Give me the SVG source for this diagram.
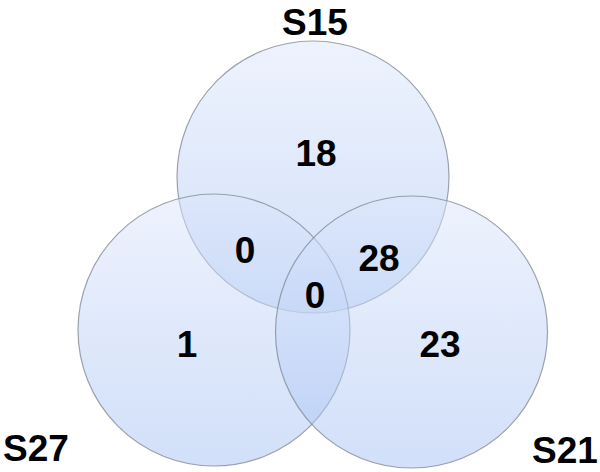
<svg xmlns="http://www.w3.org/2000/svg" width="600" height="472" viewBox="0 0 600 472">
<defs>
<linearGradient id="g" x1="0" y1="0" x2="0" y2="1">
<stop offset="0" stop-color="#dce6fb" stop-opacity="0.5"/>
<stop offset="1" stop-color="#a4c0f3" stop-opacity="0.5"/>
</linearGradient>
<style>
.c{fill:url(#g);stroke:#80868f;stroke-width:1.2;stroke-opacity:0.75}
.t{font-family:"Liberation Sans",Arial,sans-serif;font-weight:700;font-size:37px;fill:#000;text-anchor:middle}
</style>
</defs>
<rect width="600" height="472" fill="#fff"/>
<g id="S15"><circle class="c" cx="313" cy="177" r="136"/></g>
<g id="S27"><circle class="c" cx="214" cy="330" r="136"/></g>
<g id="S21"><circle class="c" cx="411.5" cy="332" r="136"/></g>
<g id="labels">
<text class="t" x="315" y="35">S15</text>
<text class="t" x="36" y="461">S27</text>
<text class="t" x="565" y="463">S21</text>
<text class="t" x="316" y="166">18</text>
<text class="t" x="245" y="263">0</text>
<text class="t" x="379" y="271">28</text>
<text class="t" x="315" y="308">0</text>
<text class="t" x="187" y="357">1</text>
<text class="t" x="440" y="357">23</text>
</g>
</svg>
